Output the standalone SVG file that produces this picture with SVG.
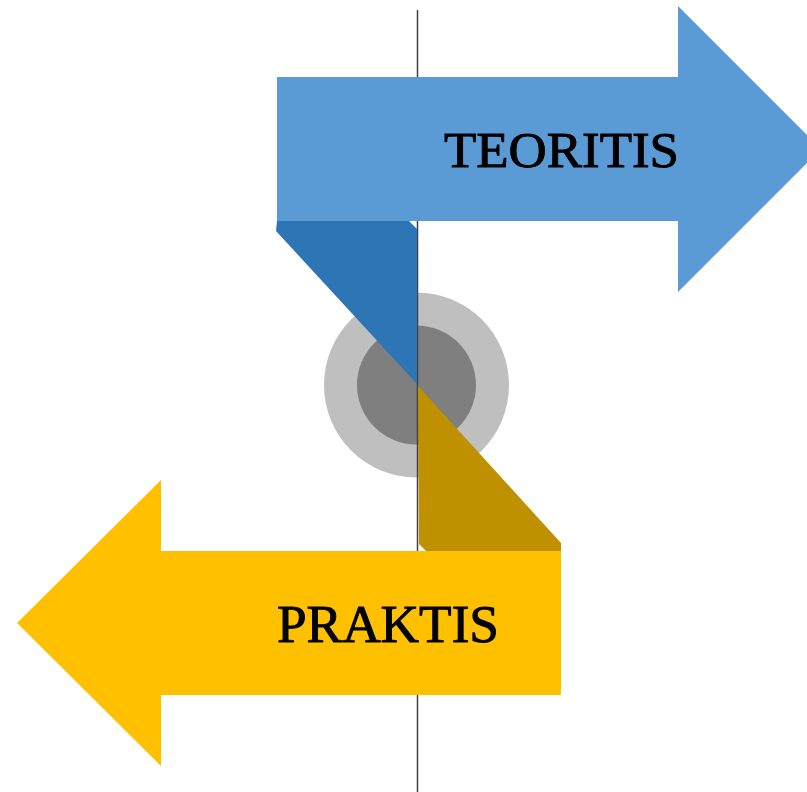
<svg xmlns="http://www.w3.org/2000/svg" width="807" height="792" viewBox="0 0 807 792">
<style>
.lbl{font-family:"Liberation Serif","DejaVu Serif",serif;fill:#000;stroke:#000;stroke-width:0.9}
.blue{fill:#5B9BD5}
.blueDark{fill:#2E75B6}
.gold{fill:#FFC000}
.goldDark{fill:#BF9000}
</style>
<rect width="807" height="792" fill="#fff"/>
<g id="hub">
<circle cx="416.5" cy="385" r="92.5" fill="#BFBFBF"/>
<circle cx="416.5" cy="385" r="59.5" fill="#7F7F7F"/>
</g>
<g id="connectors">
<line x1="417.5" y1="10" x2="417.5" y2="792" stroke="#404040" stroke-width="1.5"/>
</g>
<g id="teoritis">
<polygon class="blueDark" points="277,221 276,231 417,384 417,229 409,221"/>
<polygon class="blue" points="277,77 678,77 678,6 821,149 678,292 678,221 277,221"/>
<text class="lbl" x="444" y="167" font-size="50" textLength="235" lengthAdjust="spacingAndGlyphs">TEORITIS</text>
</g>
<g id="praktis">
<polygon class="goldDark" points="418,386 561,543 561,551 426,551 419,544"/>
<polygon class="gold" points="561,551 561,695 161,695 161,766 17,623 161,480 161,551"/>
<text class="lbl" x="277" y="642" font-size="52" textLength="222" lengthAdjust="spacingAndGlyphs">PRAKTIS</text>
</g>
</svg>
